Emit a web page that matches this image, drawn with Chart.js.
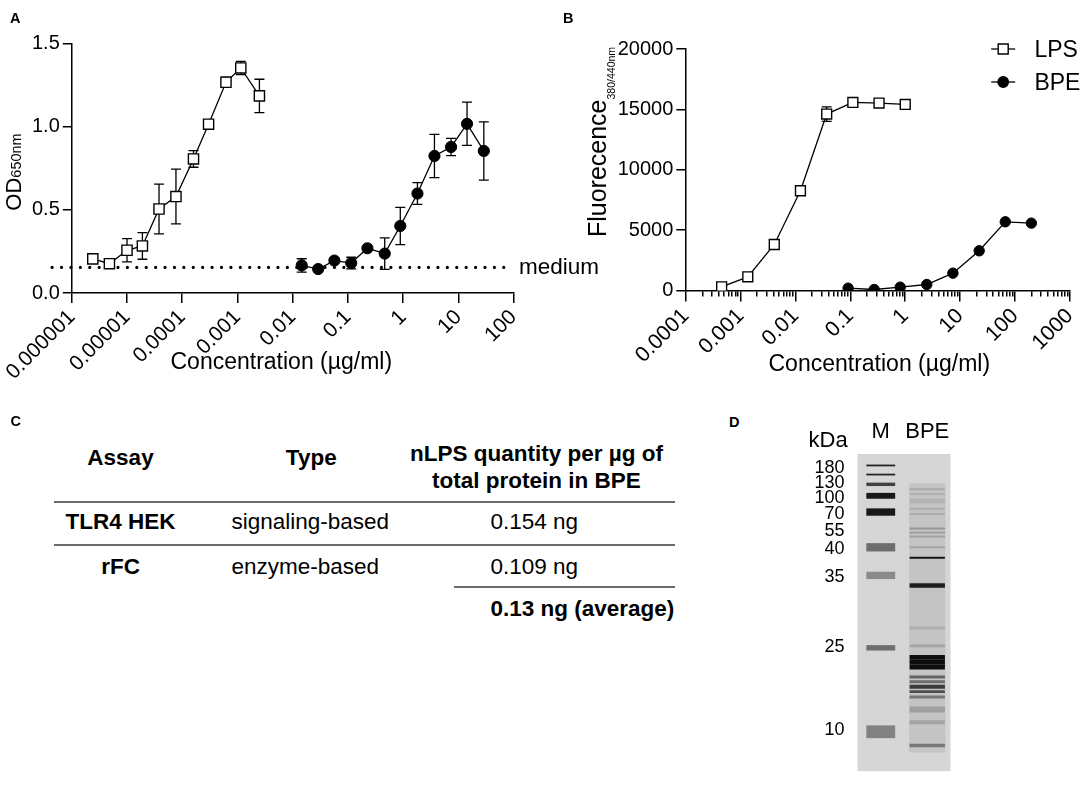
<!DOCTYPE html>
<html>
<head>
<meta charset="utf-8">
<script src="https://cdn.jsdelivr.net/npm/chart.js@4.4.1/dist/chart.umd.min.js"></script>
<style>
html, body { margin: 0; padding: 0; background: #fff; overflow: hidden; }
#fig { position: relative; width: 1084px; height: 787px; overflow: hidden;
       font-family: "Liberation Sans", Arial, sans-serif; color: #000; }
.box { position: absolute; }
.txt { position: absolute; white-space: nowrap; line-height: 1; }
.rot { position: absolute; white-space: nowrap; line-height: 1; transform: translate(-50%, -50%) rotate(-90deg); }
.rule { position: absolute; height: 2px; background: #6b6b6b; }
</style>
</head>
<body>
<div id="fig">
  <div class="box" style="left:0;top:0;width:545px;height:400px"><canvas id="chartA"></canvas></div>
  <div class="box" style="left:545px;top:0;width:560px;height:400px"><canvas id="chartB"></canvas></div>
  <div class="box" style="left:780px;top:420px;width:200px;height:367px"><canvas id="chartD"></canvas></div>

  <div class="rot" style="left:13.7px;top:172px;font-size:22px">OD<span style="font-size:14.5px">650nm</span></div>
  <div class="rot" style="left:597px;top:142px;font-size:25px">Fluorecence<span style="font-size:10.5px;position:relative;top:8.5px">380/440nm</span></div>

  <div class="rule" style="left:54px;top:501px;width:621px"></div>
  <div class="rule" style="left:54px;top:544px;width:621px"></div>
  <div class="rule" style="left:454px;top:586px;width:221px"></div>
</div>

<script>
// panel A: TLR4 HEK reporter, OD 650 nm
const aXTicks = [1e-6, 1e-5, 1e-4, 1e-3, 1e-2, 1e-1, 1, 10, 100];
const aXLabels = ['0.000001', '0.00001', '0.0001', '0.001', '0.01', '0.1', '1', '10', '100'];
const aLpsConc = [2.4e-6, 4.8e-6, 1.0e-5, 1.9e-5, 3.8e-5, 7.7e-5, 1.6e-4, 3.0e-4, 6.2e-4, 1.15e-3, 2.5e-3];
const aLpsOD   = [0.205, 0.176, 0.257, 0.283, 0.505, 0.58, 0.806, 1.015, 1.267, 1.353, 1.185];
const aLpsErr  = [0.01, 0.01, 0.07, 0.08, 0.15, 0.165, 0.05, 0.01, 0.03, 0.04, 0.1];
const aBpeConc = [0.0146, 0.029, 0.057, 0.115, 0.226, 0.465, 0.89, 1.82, 3.7, 7.4, 14.4, 29];
const aBpeOD   = [0.166, 0.144, 0.195, 0.18, 0.269, 0.237, 0.403, 0.598, 0.824, 0.878, 1.017, 0.854];
const aBpeErr  = [0.04, 0.01, 0.01, 0.035, 0.01, 0.095, 0.112, 0.065, 0.13, 0.052, 0.13, 0.175];
const aMediumOD = 0.154;
const aMediumX = [4.4e-7, 83];

// panel B: rFC assay, fluorescence
const bXTicks = [1e-4, 1e-3, 1e-2, 1e-1, 1, 10, 100, 1000];
const bXLabels = ['0.0001', '0.001', '0.01', '0.1', '1', '10', '100', '1000'];
const bLpsConc = [4.5e-4, 1.35e-3, 4.1e-3, 0.0123, 0.037, 0.111, 0.333, 1.0];
const bLpsFl   = [304, 1132, 3811, 8259, 14611, 15578, 15522, 15412];
const bLpsErr  = [0, 0, 0, 0, 600, 0, 0, 0];
const bBpeConc = [0.091, 0.272, 0.81, 2.47, 7.4, 22.3, 66.7, 199];
const bBpeFl   = [193, 83, 276, 497, 1436, 3287, 5690, 5580];

// panel C: table
const tableAssay = ['TLR4 HEK', 'rFC'];
const tableType = ['signaling-based', 'enzyme-based'];
const tableAmount = ['0.154 ng', '0.109 ng'];
const tableAverage = '0.13 ng (average)';

// panel D: SDS-PAGE, migration from the top of the gel
const gelLanes = ['M', 'BPE'];
const kdaLabels = ['180', '130', '100', '70', '55', '40', '35', '25', '10'];
const kdaPos    = [14.3, 30, 45, 61, 78.3, 96.7, 126, 197, 282];
const markerPos   = [11.7, 21, 31, 42.7, 59.3, 95.3, 124, 198, 283.7];
const markerThick = [1.8, 1.8, 3.5, 6, 7.5, 8.5, 7.5, 5.5, 13];
const markerDark  = [0.9, 0.9, 0.75, 0.95, 0.95, 0.52, 0.38, 0.52, 0.42];
const bpePos   = [36, 41, 48, 56, 61.3, 76, 80.3, 84.3, 95.3, 106, 134.3, 177.7, 196, 207.7, 212.7, 217.7, 227.7, 232.7, 237.7, 242.7, 248.3, 261, 274, 297.7];
const bpeThick = [2, 2, 5, 2, 2, 2, 2, 2, 2, 2, 4.5, 3, 3, 5, 5, 5, 3, 3, 4, 3, 3, 6, 4, 3.5];
const bpeDark  = [.225, .2, .175, .2, .2, .325, .3, .275, .25, .975, .925, .2, .25, 1, 1, 1, .575, .525, .775, .675, .475, .275, .25, .475];
const bpeSmear = [30, 305];
const bpeSmearDark = 0.09;

Chart.defaults.font.family = '"Liberation Sans", Arial, sans-serif';
Chart.defaults.color = '#000';
Chart.defaults.animation = false;
Chart.defaults.plugins.legend.display = false;
Chart.defaults.plugins.tooltip.enabled = false;

const fig = document.getElementById('fig');

function put(text, x, base, size, opt = {})
{
    const s = document.createElement('span');
    s.className = 'txt';
    s.textContent = text;
    s.style.fontSize = size + 'px';
    s.style.top = (base - 0.8465 * size) + 'px';
    s.style.left = x + 'px';
    if (opt.bold) s.style.fontWeight = 'bold';
    if (opt.center) s.style.transform = 'translateX(-50%)';
    fig.appendChild(s);
}

function xy(xs, ys) { return xs.map((x, i) => ({x: x, y: ys[i]})); }
function fixSize(px) { return s => { if (s.isHorizontal()) s.height = px; else s.width = px; }; }
function shade(d) { const g = Math.max(8, Math.round(214 - 200 * d)); return 'rgb(' + g + ',' + g + ',' + g + ')'; }

function lpsStyle(r) {
    return { borderColor: '#000', borderWidth: 1.3, pointStyle: 'rect', pointRadius: r,
             pointBackgroundColor: '#fff', pointBorderColor: '#000', pointBorderWidth: 1.4, tension: 0 };
}
function bpeStyle(r) {
    return { borderColor: '#000', borderWidth: 1.3, pointStyle: 'circle', pointRadius: r,
             pointBackgroundColor: '#000', pointBorderColor: '#000', pointBorderWidth: 1, tension: 0 };
}

const axisLine = { color: '#000', width: 1.5 };
function tickGrid(len) { return { display: true, drawOnChartArea: false, color: '#000', lineWidth: 1.5, tickLength: len }; }

// mean +/- sd bars, drawn under the symbols
const errorBars = {
    id: 'errorBars',
    beforeDatasetsDraw(chart) {
        const ctx = chart.ctx, y = chart.scales.y;
        chart.data.datasets.forEach((ds, i) => {
            if (!ds.errors) return;
            const meta = chart.getDatasetMeta(i);
            ctx.save();
            ctx.strokeStyle = '#000';
            ctx.lineWidth = 1.3;
            meta.data.forEach((pt, j) => {
                const e = ds.errors[j];
                if (!e) return;
                const v = ds.data[j].y;
                const top = y.getPixelForValue(v + e), bot = y.getPixelForValue(v - e);
                ctx.beginPath();
                ctx.moveTo(pt.x, top); ctx.lineTo(pt.x, bot);
                ctx.moveTo(pt.x - 5, top); ctx.lineTo(pt.x + 5, top);
                ctx.moveTo(pt.x - 5, bot); ctx.lineTo(pt.x + 5, bot);
                ctx.stroke();
            });
            ctx.restore();
        });
    }
};

// legend in the top right corner, symbol on a short line
const cornerLegend = {
    id: 'cornerLegend',
    afterDraw(chart, args, o) {
        const ctx = chart.ctx, area = chart.chartArea;
        chart.data.datasets.forEach((ds, i) => {
            const cx = area.right + o.symbolX, cy = area.top + o.firstY + i * o.rowGap;
            ctx.save();
            ctx.strokeStyle = '#000';
            ctx.lineWidth = 1.3;
            ctx.beginPath(); ctx.moveTo(cx - 12, cy); ctx.lineTo(cx + 12, cy); ctx.stroke();
            ctx.lineWidth = 1.4;
            ctx.fillStyle = ds.pointBackgroundColor;
            ctx.beginPath();
            if (ds.pointStyle === 'rect') ctx.rect(cx - 5, cy - 5, 10, 10);
            else ctx.arc(cx, cy, 5.2, 0, Math.PI * 2);
            ctx.fill(); ctx.stroke();
            ctx.fillStyle = '#000';
            ctx.font = o.fontSize + 'px "Liberation Sans", Arial, sans-serif';
            ctx.textBaseline = 'alphabetic';
            ctx.fillText(ds.label, area.right + o.textX, cy + o.baseShift);
            ctx.restore();
        });
    }
};

// gel background and soft band edges
const gelLook = {
    id: 'gelLook',
    beforeDatasetsDraw(chart) {
        const ctx = chart.ctx, a = chart.chartArea;
        ctx.save();
        ctx.fillStyle = '#d6d6d6';
        ctx.fillRect(a.left, a.top, a.right - a.left, a.bottom - a.top);
        ctx.restore();
        ctx.filter = 'blur(0.6px)';
    },
    afterDatasetsDraw(chart) { chart.ctx.filter = 'none'; }
};

// A
new Chart(document.getElementById('chartA'), {
    type: 'line',
    data: {
        datasets: [
            Object.assign({ label: 'LPS', data: xy(aLpsConc, aLpsOD), errors: aLpsErr }, lpsStyle(7.2)),
            Object.assign({ label: 'BPE', data: xy(aBpeConc, aBpeOD), errors: aBpeErr }, bpeStyle(5.6)),
            { label: 'medium', data: xy(aMediumX, aMediumX.map(() => aMediumOD)), borderColor: '#000',
              borderWidth: 3.2, borderDash: [0.01, 9.4], borderCapStyle: 'round', pointRadius: 0, clip: false }
        ]
    },
    options: {
        responsive: true, maintainAspectRatio: false,
        layout: { padding: { left: 0, top: 43.5, right: 31.5, bottom: 0 } },
        scales: {
            x: {
                type: 'logarithmic', min: 1e-6, max: 100,
                afterBuildTicks: s => { s.ticks = aXTicks.map(v => ({ value: v })); },
                afterFit: fixSize(107),
                ticks: { autoSkip: false, minRotation: 45, maxRotation: 45, padding: 2, font: { size: 21 },
                         callback: (v, i) => aXLabels[i] },
                grid: tickGrid(10), border: axisLine
            },
            y: {
                min: 0, max: 1.5,
                afterFit: fixSize(71.8),
                ticks: { stepSize: 0.5, padding: 3, font: { size: 20 }, callback: v => v.toFixed(1) },
                grid: tickGrid(9), border: axisLine
            }
        }
    },
    plugins: [errorBars]
});

// B
new Chart(document.getElementById('chartB'), {
    type: 'line',
    data: {
        datasets: [
            Object.assign({ label: 'LPS', data: xy(bLpsConc, bLpsFl), errors: bLpsErr }, lpsStyle(7)),
            Object.assign({ label: 'BPE', data: xy(bBpeConc, bBpeFl) }, bpeStyle(5.2))
        ]
    },
    options: {
        responsive: true, maintainAspectRatio: false,
        layout: { padding: { left: 0, top: 49, right: 35.2, bottom: 0 } },
        plugins: { cornerLegend: { symbolX: -66.6, textX: -35.4, firstY: 0, rowGap: 33, baseShift: 8.2, fontSize: 23 } },
        scales: {
            x: {
                type: 'logarithmic', min: 1e-4, max: 1000,
                afterBuildTicks: s => {
                    const t = [];
                    bXTicks.forEach((d, i) => {
                        t.push({ value: d, major: true });
                        if (i < bXTicks.length - 1) for (let k = 2; k <= 9; k++) t.push({ value: d * k, major: false });
                    });
                    s.ticks = t;
                },
                afterFit: fixSize(109.5),
                ticks: { autoSkip: false, minRotation: 45, maxRotation: 45, padding: 2, font: { size: 21.5 },
                         callback: v => { const k = bXTicks.indexOf(v); return k < 0 ? '' : bXLabels[k]; } },
                grid: Object.assign(tickGrid(11), {
                    tickBorderDash: c => (c.tick && c.tick.major) ? [] : [5, 30]
                }),
                border: axisLine
            },
            y: {
                min: 0, max: 20000,
                afterFit: fixSize(140.8),
                ticks: { stepSize: 5000, padding: 3, font: { size: 20 }, callback: v => String(v) },
                grid: tickGrid(9.5), border: axisLine
            }
        }
    },
    plugins: [errorBars, cornerLegend]
});

// D
const gelSets = [];
markerPos.forEach((p, i) => gelSets.push({
    data: [[p - markerThick[i] / 2, p + markerThick[i] / 2], null],
    backgroundColor: shade(markerDark[i]), barPercentage: 0.62
}));
bpePos.forEach((p, i) => gelSets.push({
    data: [null, [p - bpeThick[i] / 2, p + bpeThick[i] / 2]],
    backgroundColor: shade(bpeDark[i]), barPercentage: 0.76
}));
gelSets.push({ data: [null, bpeSmear], backgroundColor: shade(bpeSmearDark), barPercentage: 0.78 });

new Chart(document.getElementById('chartD'), {
    type: 'bar',
    data: { labels: gelLanes, datasets: gelSets },
    options: {
        responsive: true, maintainAspectRatio: false,
        layout: { padding: { left: 0, top: 0, right: 29.5, bottom: 9 } },
        datasets: { bar: { grouped: false, categoryPercentage: 1, borderWidth: 0, borderSkipped: false } },
        scales: {
            x: {
                position: 'top', afterFit: fixSize(34),
                grid: { display: false }, border: { display: false },
                ticks: { autoSkip: false, minRotation: 0, maxRotation: 0, padding: 1, font: { size: 22 } }
            },
            y: {
                reverse: true, min: 0, max: 324,
                afterBuildTicks: s => { s.ticks = kdaPos.map(v => ({ value: v })); },
                afterFit: fixSize(77.5),
                grid: { display: false }, border: { display: false },
                ticks: { autoSkip: false, padding: 5, font: { size: 18 }, callback: (v, i) => kdaLabels[i] }
            }
        }
    },
    plugins: [gelLook]
});

// text layer: panel letters, "medium", axis titles, table, gel header
put('A', 10, 23.3, 14.5, { bold: true });
put('B', 563, 23, 14.5, { bold: true });
put('C', 10.5, 426, 14.5, { bold: true });
put('D', 729, 427, 14.5, { bold: true });

put('medium', 519, 275, 22.5);
put('Concentration (µg/ml)', 170.5, 369, 23);
put('Concentration (µg/ml)', 768.5, 371.5, 23);

put('Assay', 120.5, 466.5, 22.5, { bold: true, center: true });
put('Type', 311.3, 466.5, 22.5, { bold: true, center: true });
put('nLPS quantity per µg of', 536.5, 462.3, 22.5, { bold: true, center: true });
put('total protein in BPE', 536.5, 489, 22.5, { bold: true, center: true });
const rowBase = [530, 575];
tableAssay.forEach((t, i) => {
    put(t, 120.5, rowBase[i], 22.5, { bold: true, center: true });
    put(tableType[i], 231.5, rowBase[i], 22.5);
    put(tableAmount[i], 490.5, rowBase[i], 22.5);
});
put(tableAverage, 490.5, 617.3, 22.5, { bold: true });

put('kDa', 808.5, 447.3, 22);
</script>
</body>
</html>
